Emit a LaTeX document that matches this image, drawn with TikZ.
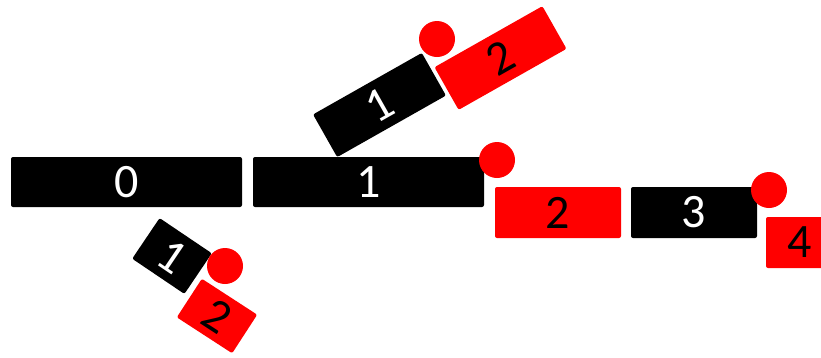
\documentclass[tikz,border=0pt]{standalone}
\usepackage{fontspec}
\setmainfont{Carlito}
\usepackage{tikz}
\usetikzlibrary{positioning}
\definecolor{tokred}{HTML}{FF0000}

\begin{document}
\begin{tikzpicture}[x=1pt, y=-1pt,
  blk/.style={fill=black, text=white, rounded corners=2pt, inner sep=0pt,
    font=\fontsize{48}{48}\selectfont},
  redblk/.style={blk, fill=tokred, text=black},
  knob/.style={circle, fill=tokred, inner sep=0pt, minimum size=36pt}
]
  \useasboundingbox (0,0) rectangle (821,357);
  \clip (0,0) rectangle (821,357);

  % main row
  \node[blk, minimum width=231pt, minimum height=50pt] (zero) at (126.5,182) {0};
  \node[blk, minimum width=231pt, minimum height=50pt] (one) at (368.5,182) {1};
  \node[redblk, minimum width=126pt, minimum height=51pt] (two) at (558,212.5) {2};
  \node[blk, minimum width=126pt, minimum height=51pt] (three) at (694,212.5) {3};
  \node[redblk, minimum width=68pt, minimum height=51pt] (four) at (800,242.5) {4};

  % tilted pairs
  \node[blk, minimum width=125pt, minimum height=49pt, rotate=29.5] (upone) at (379.5,105) {1};
  \node[redblk, minimum width=124pt, minimum height=49pt, rotate=29.5] (uptwo) at (500.5,58) {2};
  \node[blk, minimum width=63pt, minimum height=49pt, rotate=-34] (lowone) at (172,256) {1};
  \node[redblk, minimum width=66pt, minimum height=46pt, rotate=-33] (lowtwo) at (217,316) {2};

  % knobs
  \node[knob] (upknob) at (437,39) {};
  \node[knob] (oneknob) at (497,160) {};
  \node[knob] (lowknob) at (225,266) {};
  \node[knob] (threeknob) at (769,190) {};
\end{tikzpicture}
\end{document}
